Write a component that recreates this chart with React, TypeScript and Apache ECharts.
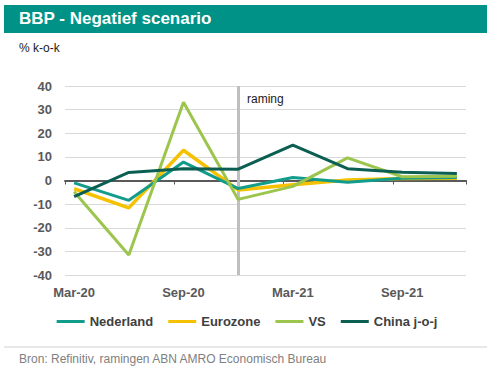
import React, { useEffect, useRef } from "react";
import * as echarts from "echarts";

const months = [
  "Mar-20", "Apr-20", "May-20", "Jun-20", "Jul-20", "Aug-20", "Sep-20", "Oct-20", "Nov-20", "Dec-20", "Jan-21",
  "Feb-21", "Mar-21", "Apr-21", "May-21", "Jun-21", "Jul-21", "Aug-21", "Sep-21", "Oct-21", "Nov-21", "Dec-21",
];
const quarters = ["Mar-20", "Jun-20", "Sep-20", "Dec-20", "Mar-21", "Jun-21", "Sep-21", "Dec-21"];
const nederland = [-1.0, -8.4, 7.8, -3.4, 1.3, -0.7, 1.0, 1.3];
const eurozone = [-3.5, -11.6, 12.8, -4.0, -1.8, 0.2, 0.8, 1.0];
const vs = [-4.8, -31.5, 33.1, -8.0, -2.5, 9.6, 1.6, 1.8];
const china = [-6.8, 3.4, 5.0, 4.8, 15.0, 5.0, 3.5, 3.0];
const forecastStart = "Dec-20";

const FONT = 'Arial, "Liberation Sans", sans-serif';

export default function App() {
  const ref = useRef<HTMLDivElement>(null);
  useEffect(() => {
    document.body.style.margin = "0";
    const chart = echarts.init(ref.current!, null, { renderer: "svg" });
    const mk = (name: string, vals: number[], color: string, width: number, z: number, extra: any = {}) => ({
      name,
      type: "line",
      xAxisIndex: 0,
      data: quarters.map((q, i) => [q, vals[i]]),
      symbol: "none",
      lineStyle: { color, width },
      itemStyle: { color },
      z,
      ...extra,
    });
    chart.setOption({
      animation: false,
      textStyle: { fontFamily: FONT },
      graphic: [
        { type: "rect", shape: { x: 4, y: 5, width: 483, height: 28 }, style: { fill: "#009286" } },
        {
          type: "text", left: 19, top: 10,
          style: { text: "BBP - Negatief scenario", fill: "#ffffff", font: `bold 17px ${FONT}` },
        },
        { type: "text", left: 19, top: 42, style: { text: "% k-o-k", fill: "#1a1a1a", font: `12px ${FONT}` } },
        { type: "text", left: 247, top: 93, style: { text: "raming", fill: "#1a1a1a", font: `12px ${FONT}` } },
        { type: "line", shape: { x1: 4, y1: 347, x2: 487, y2: 347 }, style: { stroke: "#d0d0d0", lineWidth: 1 } },
        {
          type: "text", left: 19, top: 353,
          style: { text: "Bron: Refinitiv, ramingen ABN AMRO Economisch Bureau", fill: "#808080", font: `12px ${FONT}` },
        },
      ],
      grid: { left: 65, right: 28, top: 86, bottom: 101 },
      legend: {
        top: 310,
        left: "center",
        icon: "rect",
        itemWidth: 28,
        itemHeight: 3,
        itemGap: 15,
        textStyle: { fontFamily: FONT, fontSize: 13, fontWeight: "bold", color: "#404040" },
        data: ["Nederland", "Eurozone", "VS", "China j-o-j"],
      },
      xAxis: [
        {
          type: "category",
          data: months,
          boundaryGap: true,
          position: "bottom",
          axisLine: { show: false, onZero: false },
          axisTick: { show: false },
          axisLabel: {
            interval: 5,
            margin: 11,
            color: "#595959",
            fontSize: 13,
            fontWeight: "bold",
            fontFamily: FONT,
          },
          splitLine: { show: false },
        },
        {
          type: "category",
          data: months,
          boundaryGap: true,
          position: "bottom",
          axisLine: { show: true, onZero: true, lineStyle: { color: "#595959", width: 2 } },
          axisTick: { show: true, interval: 5, length: 4, alignWithLabel: false, lineStyle: { color: "#595959", width: 1 } },
          axisLabel: { show: false },
          splitLine: { show: false },
        },
      ],
      yAxis: {
        type: "value",
        min: -40,
        max: 40,
        interval: 10,
        axisLine: { show: false },
        axisTick: { show: false },
        axisLabel: { margin: 13, color: "#595959", fontSize: 13, fontWeight: "bold", fontFamily: FONT },
        splitLine: { lineStyle: { color: "#d9d9d9", width: 1 } },
      },
      series: [
        mk("Nederland", nederland, "#119c8c", 3, 4, {
          markLine: {
            silent: true,
            symbol: ["none", "none"],
            label: { show: false },
            lineStyle: { color: "#bfbfbf", width: 3, type: "solid" },
            data: [{ xAxis: forecastStart }],
            z: 1,
          },
        }),
        mk("Eurozone", eurozone, "#f5c100", 3.5, 3),
        mk("VS", vs, "#9bc54c", 3, 5),
        mk("China j-o-j", china, "#0b5f52", 3, 6),
      ],
    });
    return () => chart.dispose();
  }, []);
  return <div ref={ref} style={{ width: 494, height: 376 }} />;
}
